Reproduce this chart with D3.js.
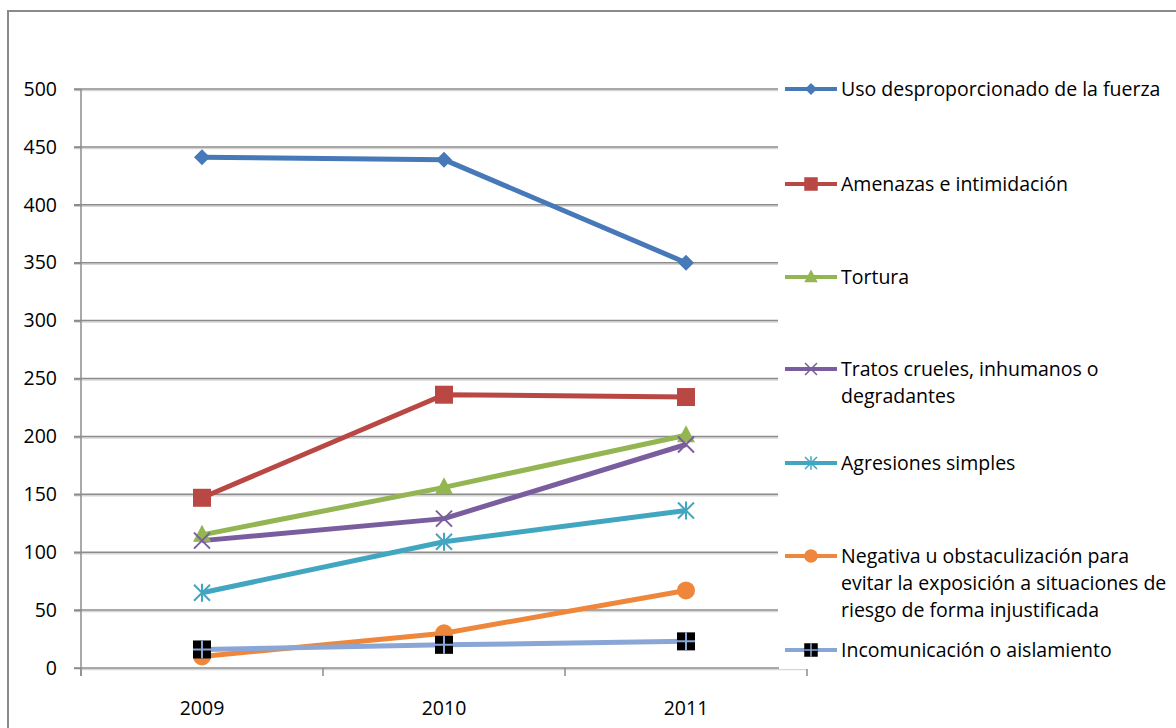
<!DOCTYPE html>
<html>
<head>
<meta charset="utf-8">
<script src="https://cdn.jsdelivr.net/npm/d3@7"></script>
<style>
  html, body { margin: 0; padding: 0; background: #fff; }
  svg { display: block; }
  text { font-family: "Open Sans", sans-serif; fill: #000; }
</style>
</head>
<body>
<svg id="chart" width="1176" height="728"></svg>
<script>
// ---- data ----
const years = ["2009", "2010", "2011"];
const seriesNames = [
  "Uso desproporcionado de la fuerza",
  "Amenazas e intimidación",
  "Tortura",
  "Tratos crueles, inhumanos o degradantes",
  "Agresiones simples",
  "Negativa u obstaculización para evitar la exposición a situaciones de riesgo de forma injustificada",
  "Incomunicación o aislamiento"
];
const legendLines = [
  ["Uso desproporcionado de la fuerza"],
  ["Amenazas e intimidación"],
  ["Tortura"],
  ["Tratos crueles, inhumanos o", "degradantes"],
  ["Agresiones simples"],
  ["Negativa u obstaculización para", "evitar la exposición a situaciones de", "riesgo de forma injustificada"],
  ["Incomunicación o aislamiento"]
];
const usoValues = [441, 439, 350];
const amenazasValues = [147, 236, 234];
const torturaValues = [115, 156, 201];
const tratosValues = [110, 129, 193];
const agresionesValues = [65, 109, 136];
const negativaValues = [10, 30, 67];
const incomValues = [16, 20, 23];
const yTicks = [0, 50, 100, 150, 200, 250, 300, 350, 400, 450, 500];

const colors = ["#4778B8", "#B94845", "#93B552", "#7A5D9E", "#43A6C0", "#EE873B", "#89A6D6"];
const markers = ["diamond", "square", "triangle", "x", "asterisk", "circle", "plussquare"];
const allValues = [usoValues, amenazasValues, torturaValues, tratosValues, agresionesValues, negativaValues, incomValues];

const series = seriesNames.map((name, i) => ({ name, values: allValues[i], color: colors[i], marker: markers[i], lines: legendLines[i] }));

// ---- layout ----
const svg = d3.select("#chart");
const plotLeft = 81, plotRight = 807, plotTop = 89, plotBottom = 668, gridRight = 778;
const fontSize = 19.5;

const x = d3.scaleBand().domain(years).range([plotLeft, plotRight]).padding(0);
const y = d3.scaleLinear().domain([0, 500]).range([plotBottom, plotTop]);

// outer chart border
svg.append("rect").attr("x", 8).attr("y", 11).attr("width", 1200).attr("height", 800)
  .attr("fill", "none").attr("stroke", "#8a8a8a").attr("stroke-width", 2);

// gridlines
const grid = svg.append("g");
yTicks.filter(t => t > 0).forEach(t => {
  grid.append("line").attr("x1", 74).attr("x2", gridRight).attr("y1", y(t) + 1.5).attr("y2", y(t) + 1.5)
    .attr("stroke", "#d6d6d6").attr("stroke-width", 1.5);
  grid.append("line").attr("x1", 74).attr("x2", gridRight).attr("y1", y(t)).attr("y2", y(t))
    .attr("stroke", "#8c8c8c").attr("stroke-width", 1.5);
});

// y axis
const yAxis = d3.axisLeft(y).tickValues(yTicks).tickSize(7).tickPadding(17);
const yg = svg.append("g").attr("transform", `translate(${plotLeft},0)`).call(yAxis);
yg.select(".domain").attr("stroke", "#8c8c8c").attr("stroke-width", 1.5).attr("d", `M0,${plotTop}V${plotBottom + 8}`);
yg.selectAll(".tick line").attr("stroke", "#8c8c8c").attr("stroke-width", 1.5);
yg.selectAll(".tick text").attr("font-size", fontSize).attr("font-family", "'Open Sans', sans-serif").attr("fill", "#000");

// x axis
const xg = svg.append("g").attr("transform", `translate(0,${plotBottom})`);
xg.append("line").attr("x1", plotLeft).attr("x2", plotRight).attr("y1", 1.5).attr("y2", 1.5)
  .attr("stroke", "#d6d6d6").attr("stroke-width", 1.5);
xg.append("line").attr("x1", plotLeft - 7).attr("x2", plotRight).attr("y1", 0).attr("y2", 0)
  .attr("stroke", "#8c8c8c").attr("stroke-width", 1.5);
const bounds = years.map(d => x(d)).concat([x(years[years.length - 1]) + x.bandwidth()]);
bounds.forEach(b => {
  xg.append("line").attr("x1", b).attr("x2", b).attr("y1", 0).attr("y2", 8).attr("stroke", "#8c8c8c").attr("stroke-width", 1.5);
});
years.forEach(d => {
  xg.append("text").attr("x", x(d) + x.bandwidth() / 2).attr("y", 47).attr("text-anchor", "middle")
    .attr("font-size", fontSize).text(d);
});

// marker drawing
function drawMarker(g, type, cx, cy, color, k) {
  const m = g.append("g").attr("transform", `translate(${cx},${cy}) scale(${k})`);
  switch (type) {
    case "diamond":
      m.append("path").attr("d", "M0,-8L8,0L0,8L-8,0Z").attr("fill", color);
      break;
    case "square":
      m.append("rect").attr("x", -9).attr("y", -9).attr("width", 18).attr("height", 18).attr("fill", color);
      break;
    case "triangle":
      m.append("path").attr("d", "M0,-10L9,7L-9,7Z").attr("fill", color);
      break;
    case "x":
      m.append("path").attr("d", "M-8,-8L8,8M-8,8L8,-8").attr("stroke", color).attr("stroke-width", 2);
      break;
    case "asterisk":
      m.append("path").attr("d", "M-8,-8L8,8M-8,8L8,-8M0,-9V9").attr("stroke", color).attr("stroke-width", 2);
      break;
    case "circle":
      m.append("circle").attr("r", 9).attr("fill", color);
      break;
    case "plussquare":
      m.append("rect").attr("x", -9).attr("y", -9).attr("width", 18).attr("height", 18).attr("fill", "#000");
      m.append("path").attr("d", "M0,-9V9M-9,0H9").attr("stroke", color).attr("stroke-width", 2);
      break;
  }
}

// lines
const line = d3.line().x((v, i) => x(years[i]) + x.bandwidth() / 2).y(v => y(v));
const linesG = svg.append("g");
series.forEach(s => {
  linesG.append("path").attr("d", line(s.values)).attr("fill", "none")
    .attr("stroke", s.color).attr("stroke-width", 5).attr("stroke-linejoin", "round");
});
series.forEach(s => {
  s.values.forEach((v, i) => drawMarker(linesG, s.marker, x(years[i]) + x.bandwidth() / 2, y(v), s.color, 1));
});

// legend
const legendY = [89, 184, 277, 369, 463, 556, 650];
const lg = svg.append("g");
series.forEach((s, i) => {
  const ly = legendY[i];
  lg.append("rect").attr("x", 779).attr("y", ly - 20).attr("width", 397).attr("height", 27 * s.lines.length + 12).attr("fill", "#fff");
});
series.forEach((s, i) => {
  const ly = legendY[i];
  lg.append("line").attr("x1", 785).attr("x2", 837).attr("y1", ly).attr("y2", ly)
    .attr("stroke", s.color).attr("stroke-width", 4);
  drawMarker(lg, s.marker, 811, ly, s.color, 0.75);
  s.lines.forEach((t, j) => {
    lg.append("text").attr("x", 841).attr("y", ly + 7 + j * 27).attr("font-size", fontSize).text(t);
  });
});
</script>
</body>
</html>
